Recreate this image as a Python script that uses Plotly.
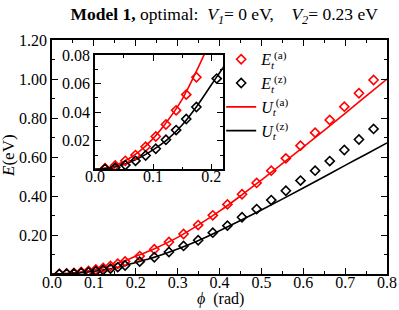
import plotly.graph_objects as go

# --- data ---
deg_pts = [1, 2, 3, 4, 5, 6, 7, 8, 9, 10, 12, 14, 16, 18, 20, 22, 24, 26, 28, 30,
           32, 34, 36, 38, 40, 42, 44]
phi_pts = [d * 3.141592653589793 / 180 for d in deg_pts]
E_a = [0.0008, 0.0027, 0.006, 0.010, 0.0158, 0.023, 0.0314, 0.0413, 0.0523, 0.0644,
       0.092, 0.127, 0.164, 0.205, 0.251, 0.301, 0.357, 0.409, 0.467, 0.530,
       0.593, 0.658, 0.725, 0.790, 0.858, 0.927, 0.995]
E_z = [0.0004, 0.0012, 0.003, 0.006, 0.0097, 0.0144, 0.0207, 0.0275, 0.0352, 0.0436,
       0.0635, 0.086, 0.113, 0.144, 0.173, 0.212, 0.248, 0.291, 0.333, 0.379,
       0.427, 0.479, 0.530, 0.579, 0.636, 0.690, 0.744]

phi_line = [0.0, 0.025, 0.05, 0.075, 0.1, 0.125, 0.15, 0.175, 0.2, 0.225, 0.25, 0.3, 0.35, 0.4,
            0.45, 0.5, 0.55, 0.6, 0.65, 0.7, 0.75, 0.8]
U_a = [0.0, 0.0014, 0.0055, 0.012, 0.0215, 0.034, 0.049, 0.069, 0.091, 0.112, 0.135, 0.188,
       0.252, 0.322, 0.400, 0.482, 0.566, 0.651, 0.737, 0.824, 0.912, 1.0]
U_z = [0.0, 0.0009, 0.0035, 0.0078, 0.0137, 0.021, 0.031, 0.044, 0.059, 0.074, 0.09, 0.128,
       0.172, 0.222, 0.274, 0.328, 0.384, 0.441, 0.499, 0.557, 0.614, 0.672]

x_ticks = [0.0, 0.1, 0.2, 0.3, 0.4, 0.5, 0.6, 0.7, 0.8]
y_ticks = [0.2, 0.4, 0.6, 0.8, 1.0, 1.2]
ix_ticks = [0.0, 0.1, 0.2]
iy_ticks = [0.02, 0.04, 0.06, 0.08]

RED = "#ff0000"
BLK = "#000000"
SERIF = "Liberation Serif"

fig = go.Figure()

def add_set(xa, ya):
    fig.add_trace(go.Scatter(x=phi_line, y=U_a, mode="lines", line=dict(color=RED, width=1.6, shape="spline"),
                             xaxis=xa, yaxis=ya, showlegend=False, hoverinfo="skip"))
    fig.add_trace(go.Scatter(x=phi_line, y=U_z, mode="lines", line=dict(color=BLK, width=1.6, shape="spline"),
                             xaxis=xa, yaxis=ya, showlegend=False, hoverinfo="skip"))
    fig.add_trace(go.Scatter(x=phi_pts, y=E_a, mode="markers",
                             marker=dict(symbol="diamond-open", size=7, color=RED, line=dict(width=1.6, color=RED)),
                             xaxis=xa, yaxis=ya, showlegend=False))
    fig.add_trace(go.Scatter(x=phi_pts, y=E_z, mode="markers",
                             marker=dict(symbol="diamond-open", size=7, color=BLK, line=dict(width=1.6, color=BLK)),
                             xaxis=xa, yaxis=ya, showlegend=False))

add_set("x", "y")
add_set("x2", "y2")

# legend entries
fig.add_trace(go.Scatter(x=[None], y=[None], mode="markers",
                         marker=dict(symbol="diamond-open", size=7, color=RED, line=dict(width=1.6, color=RED)),
                         name="<i>E<sub>t</sub></i><sup>(a)</sup>"))
fig.add_trace(go.Scatter(x=[None], y=[None], mode="markers",
                         marker=dict(symbol="diamond-open", size=7, color=BLK, line=dict(width=1.6, color=BLK)),
                         name="<i>E<sub>t</sub></i><sup>(z)</sup>"))
fig.add_trace(go.Scatter(x=[None], y=[None], mode="lines", line=dict(color=RED, width=1.6),
                         name="<i>U<sub>t</sub></i><sup>(a)</sup>"))
fig.add_trace(go.Scatter(x=[None], y=[None], mode="lines", line=dict(color=BLK, width=1.6),
                         name="<i>U<sub>t</sub></i><sup>(z)</sup>"))

ax_common = dict(showline=True, linecolor="black", linewidth=1.6, mirror="allticks",
                 ticks="inside", ticklen=6, tickwidth=1.4, tickcolor="black",
                 showgrid=False, zeroline=False, automargin=False,
                 tickfont=dict(family=SERIF, size=16, color="black"))

fig.update_layout(
    width=399, height=310,
    margin=dict(l=52, r=12, t=40, b=36, autoexpand=False),
    plot_bgcolor="white", paper_bgcolor="white",
    font=dict(family=SERIF, color="black"),
    title=dict(text="<b>Model 1,</b> optimal:  <i>V<sub>1</sub></i>= 0 eV,\u00a0\u00a0\u00a0 <i>V<sub>2</sub></i>= 0.23 eV",
               x=0.562, xanchor="center", y=0.955, yanchor="middle",
               font=dict(family=SERIF, size=17.5, color="black")),
    xaxis=dict(ax_common, range=[0, 0.8], tickvals=x_ticks, ticktext=[f"{v:.1f}" for v in x_ticks],
               ticklabelstandoff=-7,
               minor=dict(ticks="inside", ticklen=3, tickwidth=1.2, tickcolor="black", dtick=0.05, tick0=0)),
    yaxis=dict(ax_common, range=[0, 1.2], tickvals=y_ticks, ticktext=[f"{v:.2f}" for v in y_ticks],
               minor=dict(ticks="inside", ticklen=3, tickwidth=1.2, tickcolor="black", dtick=0.1, tick0=0)),
    xaxis2=dict(ax_common, domain=[0.128, 0.51], anchor="y2", range=[0, 0.22],
                tickvals=ix_ticks, ticktext=[f"{v:.1f}" for v in ix_ticks],
                ticklabelstandoff=-8,
                minor=dict(ticks="inside", ticklen=3, tickwidth=1.2, tickcolor="black", dtick=0.05, tick0=0)),
    yaxis2=dict(ax_common, domain=[0.447, 0.936], anchor="x2", range=[0, 0.08],
                tickvals=iy_ticks, ticktext=[f"{v:.2f}" for v in iy_ticks],
                minor=dict(ticks="inside", ticklen=3, tickwidth=1.2, tickcolor="black", dtick=0.01, tick0=0)),
    legend=dict(x=0.505, y=0.99, xanchor="left", yanchor="top", bgcolor="rgba(0,0,0,0)",
                font=dict(family=SERIF, size=16, color="black"), itemwidth=30, tracegroupgap=0),
    showlegend=True,
    annotations=[
        dict(text="<i>\u03d5</i>\u00a0 (rad)", xref="paper", yref="paper", x=0.5015, y=-0.107,
             xanchor="center", yanchor="middle", showarrow=False,
             font=dict(family=SERIF, size=16, color="black")),
        dict(text="<i>E</i>(eV)", xref="paper", yref="paper", x=-0.128, y=0.505,
             xanchor="center", yanchor="middle", showarrow=False, textangle=-90,
             font=dict(family=SERIF, size=17, color="black")),
    ],
)

fig.write_html("out.html", config={"displayModeBar": False},
               post_script="document.body.style.margin='0';document.body.style.padding='0';"
                           "document.documentElement.style.overflow='hidden';")
